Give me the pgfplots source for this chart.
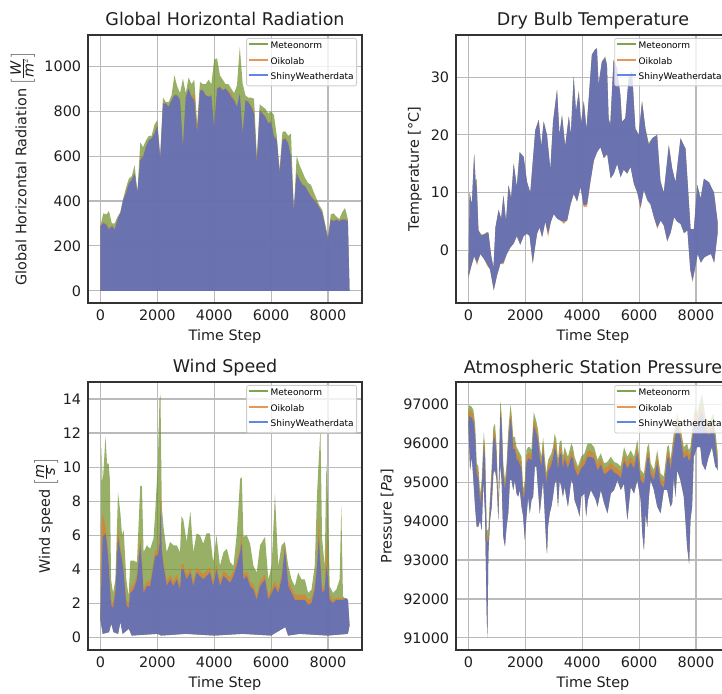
\documentclass[border=0pt]{standalone}
\usepackage{fontspec}
\setmainfont{DejaVu Sans}
\usepackage{pgfplots}
\usepackage{pgfplotstable}
\pgfplotsset{compat=1.18}
\usepgfplotslibrary{fillbetween}

\definecolor{cgreen}{RGB}{107,142,35}
\definecolor{corange}{RGB}{225,125,45}
\definecolor{cblue}{RGB}{65,105,225}
% legend line colours
\definecolor{lgreen}{RGB}{128,166,76}
\definecolor{lorange}{RGB}{232,150,92}
\definecolor{lblue}{RGB}{100,132,230}

% global horizontal radiation, upper envelope (lower is 0)
\pgfplotstableread{
x g o b
0 290 290 288
100 345 305 302
200 340 300 295
300 355 280 273
400 300 290 288
500 300 275 273
600 330 320 317
700 350 347 347
800 410 405 405
900 460 440 435
1000 500 480 479
1100 510 495 494
1200 560 525 523
1300 440 440 440
1400 660 590 583
1500 640 600 597
1600 670 645 642
1700 690 672 671
1800 690 680 678
1900 740 705 700
2000 760 740 737
2100 600 595 590
2200 860 840 833
2300 840 835 833
2400 840 822 819
2500 870 850 848
2600 960 875 870
2700 910 872 870
2800 880 850 848
2900 945 650 642
3000 880 865 863
3100 950 905 900
3200 920 866 863
3300 940 880 848
3400 740 730 705
3500 930 895 892
3600 920 895 892
3700 920 872 870
3800 940 866 863
3900 920 873 870
4000 1030 735 730
4100 1035 905 900
4200 960 910 907
4300 940 895 892
4400 920 903 900
4500 920 888 885
4600 900 880 863
4700 880 852 848
4800 914 822 819
4900 1085 880 878
5000 922 705 700
5100 870 850 848
5200 860 845 840
5300 860 822 819
5400 855 800 789
5500 600 575 568
5600 830 808 804
5700 820 792 789
5800 810 778 774
5900 790 748 745
6000 800 756 752
6100 782 690 686
6200 690 675 671
6300 540 528 524
6400 708 675 671
6500 710 682 678
6600 690 660 656
6700 700 600 597
6800 360 362 361
6900 600 528 524
7000 560 498 494
7100 530 476 472
7200 501 468 465
7300 480 445 442
7400 472 424 420
7500 440 408 405
7600 410 394 391
7700 380 372 369
7800 360 350 347
7900 300 290 288
8000 240 232 229
8100 340 320 317
8200 345 312 310
8300 330 320 317
8400 320 312 310
8500 350 320 317
8600 369 320 317
8700 320 312 310
8759 0 0 0
}\rad

% dry bulb temperature, upper envelope (hi: Oikolab/Shiny, ghi: Meteonorm)
\pgfplotstableread{
x hi ghi
0 -4.0 -4.0
40 10.0 10.0
120 8.0 8.0
200 16.6 16.8
250 12.0 12.0
290 11.0 12.4
350 3.5 3.5
450 2.5 2.8
550 2.8 2.8
650 3.0 3.2
700 3.1 3.1
800 -1.0 -1.0
880 -3.0 -3.0
950 4.0 4.0
1060 7.0 7.0
1150 5.5 5.5
1230 9.5 9.5
1320 5.0 5.0
1410 11.3 11.3
1500 9.0 9.0
1590 15.0 15.0
1700 11.0 11.0
1800 17.0 17.0
1940 16.2 16.2
2060 11.8 11.8
2175 10.0 10.0
2350 20.8 20.8
2470 22.6 22.6
2560 18.0 18.0
2645 22.3 22.3
2760 20.0 20.0
2880 14.0 14.0
2975 22.3 22.3
3115 27.8 27.8
3200 20.0 20.0
3290 23.4 23.4
3400 18.0 18.0
3530 23.2 23.2
3600 20.0 20.0
3700 30.1 30.1
3780 24.0 24.0
3880 27.5 27.5
3960 22.0 22.0
4055 25.8 25.8
4150 21.0 21.0
4222 25.8 25.8
4340 33.9 33.9
4457 34.8 34.8
4516 35.0 35.0
4575 28.7 28.7
4692 32.7 32.7
4810 33.3 33.6
4869 32.1 32.1
4928 22.9 22.9
4987 21.7 21.7
5104 33.0 33.0
5222 31.6 31.6
5340 26.9 26.9
5398 22.3 22.3
5516 22.9 22.9
5633 29.8 29.8
5751 31.0 31.0
5869 21.1 21.1
5986 20.0 20.0
6104 25.8 25.8
6222 21.1 21.1
6339 18.2 18.6
6457 19.4 19.4
6633 20.0 20.0
6751 11.8 12.2
6869 10.0 10.0
7045 18.2 18.2
7163 14.2 14.2
7280 11.8 11.8
7457 19.4 19.4
7633 17.6 17.6
7751 8.3 8.3
7810 3.7 3.7
7927 3.7 3.7
8045 11.3 11.3
8163 9.0 9.0
8280 12.4 12.4
8457 11.8 11.8
8633 10.0 10.0
8759 5.0 5.0
}\temphi

% dry bulb temperature, lower envelope (lo: Meteonorm/Shiny, olo: Oikolab)
\pgfplotstableread{
x lo olo
0 -4.5 -4.9
100 -2.7 -2.7
200 -1.0 -1.0
300 -2.1 -2.6
420 -0.6 -0.6
550 -1.5 -1.5
650 -2.3 -2.6
760 -3.3 -3.3
890 -6.8 -7.0
1000 -4.4 -4.4
1120 -2.3 -2.3
1230 -2.1 -2.4
1350 -0.6 -0.6
1470 0.5 0.5
1590 1.2 1.2
1700 2.5 2.5
1820 1.0 1.0
1940 2.5 2.5
2060 2.9 2.9
2150 2.5 2.5
2260 -2.1 -2.4
2410 2.9 2.9
2500 4.0 4.0
2590 2.3 2.3
2700 5.0 5.0
2800 2.9 2.3
2900 5.0 5.0
3000 6.3 6.3
3120 5.5 5.5
3230 5.2 5.2
3350 5.0 4.6
3470 5.2 5.2
3590 8.0 8.0
3700 9.8 9.8
3820 8.5 8.5
3940 11.0 11.0
4050 7.8 7.5
4170 8.0 7.5
4290 12.0 12.0
4410 15.6 15.6
4520 17.0 17.0
4640 17.9 17.9
4760 16.0 16.0
4880 16.7 16.7
5000 12.5 12.5
5110 13.3 13.3
5230 15.0 15.0
5350 12.7 12.7
5460 14.0 14.0
5580 13.3 13.3
5700 14.5 14.5
5820 11.5 11.5
5940 10.0 10.0
6050 7.5 7.2
6170 10.5 10.5
6290 8.7 8.7
6400 8.0 8.0
6520 5.8 5.8
6640 4.0 3.7
6760 5.2 5.2
6870 4.3 4.3
6990 1.7 1.5
7110 3.1 3.1
7230 5.8 5.8
7340 5.0 5.0
7460 4.6 4.6
7580 3.0 3.0
7700 3.5 3.5
7800 -3.3 -3.3
7880 -5.2 -5.5
7970 -3.0 -3.0
8060 -0.6 -0.6
8170 -2.1 -2.1
8290 -1.2 -1.2
8400 -0.9 -0.9
8530 -0.6 -0.6
8640 -2.1 -2.1
8759 2.9 2.9
}\templo

% wind speed, upper envelopes
\pgfplotstableread{
x g o b
0 1.5 1.5 1.5
35 11.2 6.6 3.4
80 9.0 7.3 5.9
175 11.8 6.6 6.1
233 10.2 5.7 5.4
290 10.2 4.5 4.2
330 9.3 3.3 3.0
373 3.4 2.2 1.9
443 2.6 2.0 1.7
525 3.4 2.9 2.6
618 8.5 6.5 5.9
700 7.3 5.3 5.0
760 6.0 4.8 4.5
816 6.3 4.1 3.8
910 3.4 2.2 1.9
990 2.4 2.0 1.7
1050 4.5 2.9 2.6
1166 4.5 3.1 2.8
1283 4.4 3.7 3.4
1400 8.9 6.0 5.5
1458 8.9 4.5 4.2
1516 5.0 2.9 2.6
1632 5.4 3.3 3.0
1749 5.2 3.3 3.0
1866 5.8 4.5 4.2
1924 7.3 5.1 4.8
2017 10.2 5.1 4.8
2075 13.9 5.8 5.4
2110 14.3 8.6 7.7
2157 7.7 5.3 5.0
2215 6.5 4.5 4.2
2332 5.0 3.3 3.0
2449 5.6 3.7 3.4
2565 5.4 3.3 3.0
2682 5.4 3.7 3.4
2798 5.0 3.1 2.8
2850 7.1 4.3 4.0
2915 6.9 4.3 4.0
3030 5.6 3.7 3.4
3162 7.4 4.1 3.8
3265 5.0 3.3 3.0
3381 6.1 4.1 3.8
3498 6.0 3.9 3.6
3614 5.5 3.7 3.4
3731 6.1 3.9 3.6
3848 6.1 4.1 3.8
3964 4.4 3.3 3.0
4081 6.0 4.3 4.0
4200 4.2 3.3 3.0
4328 5.0 3.9 3.6
4445 5.2 3.7 3.4
4561 4.4 3.5 3.2
4678 4.2 3.9 3.6
4795 6.1 4.5 4.2
4912 9.3 5.3 5.0
4970 9.4 6.1 5.5
5028 5.9 3.7 3.4
5145 6.0 3.9 3.6
5261 5.5 3.3 3.0
5378 4.2 3.1 2.8
5495 3.8 2.5 2.2
5611 5.4 3.3 3.0
5786 5.9 3.7 3.4
5903 3.4 2.5 2.2
6020 4.2 2.9 2.6
6136 8.4 3.3 3.0
6253 4.2 2.9 2.6
6370 5.4 3.7 3.4
6486 5.6 5.5 5.2
6603 4.2 3.3 3.0
6720 3.4 2.9 2.6
6836 3.0 2.5 2.2
6953 3.8 2.5 2.2
7070 3.4 2.5 2.2
7186 3.4 2.5 2.2
7303 2.6 2.2 1.9
7420 2.8 2.3 2.0
7536 4.2 3.1 2.8
7618 8.5 4.5 4.2
7676 10.4 7.1 5.9
7735 12.2 4.5 4.2
7793 5.8 2.9 2.6
7886 4.2 3.1 2.8
7944 10.2 5.7 4.2
8003 7.7 3.7 3.4
8061 3.0 2.5 2.2
8178 2.6 2.2 2.0
8294 2.8 2.3 2.2
8411 3.4 2.3 2.2
8469 7.7 2.3 2.2
8528 2.4 2.3 2.2
8644 2.2 2.3 2.3
8703 2.2 2.2 2.2
8759 0.7 0.7 0.7
}\windhi

\pgfplotstableread{
x lo
0 1.0
80 0.2
300 0.3
380 0.8
460 0.3
620 0.2
700 0.9
780 0.2
1000 0.5
1100 0.1
2000 0.2
2140 0.1
3000 0.2
4000 0.1
5000 0.2
6000 0.1
6500 0.6
6600 0.1
7000 0.2
8000 0.1
8700 0.2
8759 0.7
}\windlo

% atmospheric station pressure, upper envelopes
\pgfplotstableread{
x g o b
0 96850 96700 96500
23 96975 96850 96700
117 96930 96800 96650
175 96850 96700 96550
233 96500 96350 96200
290 95480 95350 95200
350 95400 95250 95100
408 94710 94600 94450
466 95050 94900 94750
540 96290 96100 95950
583 95900 95750 95600
641 93770 93650 93500
700 93770 93600 93450
758 94630 94500 94350
816 95400 95250 95100
875 96420 96250 96100
933 96500 96300 96150
991 95900 95750 95600
1050 94460 94350 94200
1120 97100 96850 96800
1166 96760 96600 96450
1224 95480 95350 95200
1283 95050 94900 94800
1341 95480 95350 95200
1400 96330 96150 96000
1480 97000 96800 96650
1516 96760 96600 96450
1574 96160 96000 95850
1632 96160 96000 95850
1690 95900 95750 95600
1749 95820 95700 95550
1807 95740 95600 95450
1866 95650 95500 95350
1924 94800 94700 94550
1982 95050 94900 94750
2040 95820 95650 95500
2099 95900 95750 95600
2157 95900 95750 95600
2215 95820 95700 95550
2297 96800 96600 96450
2390 96550 96400 96250
2449 96330 96200 96050
2507 95900 95750 95600
2565 95650 95500 95400
2624 96160 96000 95850
2682 95650 95500 95400
2740 95220 95100 94950
2798 95570 95450 95300
2857 95650 95500 95350
2915 95740 95600 95450
2973 95900 95750 95600
3032 96250 96050 95900
3090 96080 95900 95750
3148 95570 95450 95300
3207 96040 95850 95700
3265 96080 95900 95750
3323 95650 95500 95350
3381 95900 95750 95600
3498 95650 95500 95350
3614 95990 95800 95650
3673 95900 95750 95600
3731 95650 95500 95350
3848 95400 95300 95150
3964 95650 95500 95350
4081 95740 95600 95450
4188 95990 95800 95650
4305 95990 95800 95650
4421 95900 95750 95600
4538 95570 95450 95300
4655 95740 95600 95450
4771 95480 95350 95200
4888 95520 95400 95250
5005 95650 95500 95350
5121 95520 95400 95250
5238 95480 95350 95200
5355 95400 95250 95100
5471 95900 95700 95550
5588 95650 95500 95350
5705 95820 95650 95500
5821 95650 95500 95350
5938 96080 95900 95750
6055 95310 95200 95050
6171 95220 95100 94950
6288 95900 95750 95600
6346 95990 95800 95650
6405 95480 95350 95200
6521 95310 95200 95050
6638 95820 95650 95500
6755 95220 95100 94950
6871 95140 95000 94850
6988 95900 95750 95600
7046 95950 95800 95650
7105 95570 95450 95300
7221 96250 96100 95950
7280 96500 96350 96200
7338 96760 96600 96450
7455 96420 96300 96150
7571 95900 95750 95600
7688 95990 95850 95700
7746 95820 95700 95550
7805 95900 95750 95600
7921 96680 96550 96400
7980 96930 96750 96600
8038 96760 96600 96450
8155 97100 96900 96750
8213 97270 96950 96800
8330 96680 96550 96400
8446 96500 96350 96200
8563 96680 96500 96350
8621 96760 96600 96450
8738 95900 95750 95600
8759 95800 95700 95600
}\preshi

\pgfplotstableread{
x lo
0 96420
58 95310
117 95650
175 95050
233 94370
290 93860
350 93860
408 94030
466 93770
525 95050
583 94200
641 91640
665 91000
700 93180
758 94030
816 94370
875 95220
933 95310
991 95050
1050 94030
1108 95480
1166 95050
1224 93600
1283 93350
1341 93860
1400 94200
1458 95050
1516 95050
1574 94800
1632 95050
1690 94710
1749 94630
1807 94800
1866 94370
1924 94120
1982 93520
2040 94120
2099 94630
2157 94200
2215 94540
2274 94630
2332 95400
2390 95400
2449 94800
2507 94200
2565 94630
2624 95050
2682 94200
2740 93350
2763 93180
2798 93860
2857 94200
2915 94370
2973 94630
3032 94960
3090 95050
3148 94370
3207 95050
3265 94880
3323 94630
3381 94880
3498 94370
3614 95050
3673 94960
3731 94540
3848 94290
3906 94120
3964 94630
4081 94710
4139 94120
4198 94540
4305 94800
4421 94630
4480 94540
4538 94370
4655 94800
4771 94460
4888 94200
5005 94710
5121 94800
5238 95050
5355 94800
5471 94960
5588 94030
5705 94880
5821 94710
5938 95050
6055 94540
6113 93690
6171 93260
6230 94200
6288 93860
6346 94630
6405 95050
6521 94800
6638 94370
6755 94200
6871 94800
6988 94800
7105 94370
7163 94460
7221 95140
7280 94630
7338 95310
7455 95050
7571 94630
7630 94030
7688 93350
7760 92900
7805 94030
7863 94370
7921 95650
8038 95900
8155 95900
8213 95480
8330 95310
8446 95650
8563 95900
8680 95400
8738 95350
8759 95300
}\preslo

\pgfplotsset{
  panel/.style={
    scale only axis, width=274pt, height=268pt,
    anchor=south west,
    xmin=-438, xmax=9197,
    xtick={0,2000,4000,6000,8000},
    scaled x ticks=false, scaled y ticks=false,
    grid=major,
    grid style={color=black!27, line width=1.1pt},
    axis line style={color=black!80, line width=1.1pt},
    major tick length=0pt,
    /pgf/number format/assume math mode=true,
    /pgf/number format/1000 sep={},
    tick label style={font=\fontsize{14.4}{17}\selectfont, color=black!88},
    xticklabel style={inner sep=0pt, yshift=-7pt},
    yticklabel style={inner sep=0pt, xshift=-6.7pt},
    xlabel={Time Step},
    xlabel style={at={(axis description cs:0.5,0)}, anchor=north, inner sep=0pt,
      yshift=-26pt, font=\fontsize{14.4}{17}\selectfont, color=black!88},
    ylabel style={anchor=base, inner sep=0pt, font=\fontsize{14.4}{17}\selectfont, color=black!88},
    title style={at={(axis description cs:0.5,1)}, anchor=base, inner sep=0pt,
      yshift=3pt, font=\fontsize{17.5}{20}\selectfont, color=black!88},
    legend style={at={(1,1)}, anchor=north east, xshift=-5pt, yshift=-3pt,
      font=\fontsize{9}{10.8}\selectfont, draw=black!20, line width=0.8pt,
      fill=white, fill opacity=0.8, text opacity=1, rounded corners=2pt,
      inner xsep=1pt, inner ysep=2pt, row sep=3pt,
      nodes={inner sep=2pt, text height=6.5pt, text depth=2pt}},
    legend cell align=left,
  },
  legline/.style={legend image code/.code={%
    \draw[#1, line width=2pt] (0pt,2.5pt) -- (19pt,2.5pt);}},
}

\newcommand{\seriesnames}{%
  \addlegendimage{legline=lgreen}\addlegendentry{Meteonorm}
  \addlegendimage{legline=lorange}\addlegendentry{Oikolab}
  \addlegendimage{legline=lblue}\addlegendentry{ShinyWeatherdata}}

\begin{document}
\begin{tikzpicture}

% ---------- Global Horizontal Radiation ----------
\begin{axis}[panel, at={(88pt,390pt)},
  ymin=-54, ymax=1139, ytick={0,200,400,600,800,1000},
  title={Global Horizontal Radiation},
  ylabel={Global Horizontal Radiation $\left[\frac{\textit{W}}{\textit{m}^2}\right]$},
  ylabel style={at={(axis description cs:-0.2245,0.5)}}]
\seriesnames
\addplot[fill=cgreen, fill opacity=0.7, draw=none, forget plot] table[x=x,y=g]{\rad} \closedcycle;
\addplot[fill=corange, fill opacity=0.7, draw=none, forget plot] table[x=x,y=o]{\rad} \closedcycle;
\addplot[fill=cblue, fill opacity=0.7, draw=none, forget plot] table[x=x,y=b]{\rad} \closedcycle;
\end{axis}

% ---------- Dry Bulb Temperature ----------
\begin{axis}[panel, at={(456pt,390pt)},
  ymin=-9.1, ymax=37.3, ytick={0,10,20,30},
  title={Dry Bulb Temperature},
  ylabel={Temperature [°C]},
  ylabel style={at={(axis description cs:-0.1358,0.5)}}]
\seriesnames
\addplot[draw=none, name path=thi, forget plot] table[x=x,y=hi]{\temphi};
\addplot[draw=none, name path=tghi, forget plot] table[x=x,y=ghi]{\temphi};
\addplot[draw=none, name path=tlo, forget plot] table[x=x,y=lo]{\templo};
\addplot[draw=none, name path=tolo, forget plot] table[x=x,y=olo]{\templo};
\addplot[fill=cgreen, fill opacity=0.7, forget plot] fill between[of=tghi and tlo];
\addplot[fill=corange, fill opacity=0.7, forget plot] fill between[of=thi and tolo];
\addplot[fill=cblue, fill opacity=0.7, forget plot] fill between[of=thi and tlo];
\end{axis}

% ---------- Wind Speed ----------
\begin{axis}[panel, at={(88pt,43pt)},
  ymin=-0.75, ymax=15.0, ytick={0,2,4,6,8,10,12,14},
  title={Wind Speed},
  ylabel={Wind speed $\left[\frac{\textit{m}}{\textit{s}}\right]$},
  ylabel style={at={(axis description cs:-0.1394,0.5)}}]
\seriesnames
\addplot[draw=none, name path=wg, forget plot] table[x=x,y=g]{\windhi};
\addplot[draw=none, name path=wo, forget plot] table[x=x,y=o]{\windhi};
\addplot[draw=none, name path=wb, forget plot] table[x=x,y=b]{\windhi};
\addplot[draw=none, name path=wlo, forget plot] table[x=x,y=lo]{\windlo};
\addplot[fill=cgreen, fill opacity=0.7, forget plot] fill between[of=wg and wlo];
\addplot[fill=corange, fill opacity=0.7, forget plot] fill between[of=wo and wlo];
\addplot[fill=cblue, fill opacity=0.7, forget plot] fill between[of=wb and wlo];
\end{axis}

% ---------- Atmospheric Station Pressure ----------
\begin{axis}[panel, at={(456pt,43pt)},
  ymin=90690, ymax=97570, ytick={91000,92000,93000,94000,95000,96000,97000},
  title={Atmospheric Station Pressure},
  ylabel={Pressure [\textit{Pa}]},
  ylabel style={at={(axis description cs:-0.2354,0.5)}}]
\seriesnames
\addplot[draw=none, name path=pg, forget plot] table[x=x,y=g]{\preshi};
\addplot[draw=none, name path=po, forget plot] table[x=x,y=o]{\preshi};
\addplot[draw=none, name path=pb, forget plot] table[x=x,y=b]{\preshi};
\addplot[draw=none, name path=plo, forget plot] table[x=x,y=lo]{\preslo};
\addplot[fill=cgreen, fill opacity=0.7, forget plot] fill between[of=pg and plo];
\addplot[fill=corange, fill opacity=0.7, forget plot] fill between[of=po and plo];
\addplot[fill=cblue, fill opacity=0.7, forget plot] fill between[of=pb and plo];
\end{axis}

\pgfresetboundingbox
\path[use as bounding box] (0pt,0pt) rectangle (722pt,693pt);
\end{tikzpicture}
\end{document}
